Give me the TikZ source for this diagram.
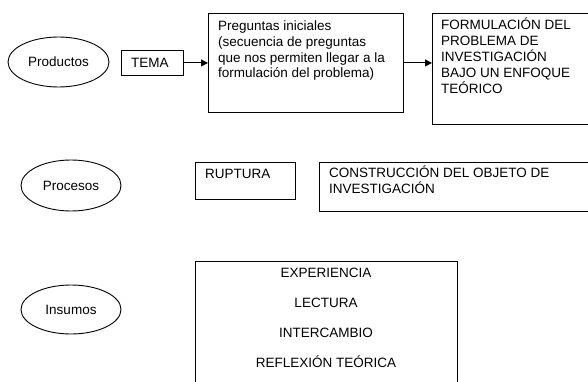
\documentclass[tikz,border=0pt]{standalone}
\usepackage{fontspec}
\setmainfont{Liberation Sans}
\usetikzlibrary{shapes.geometric,arrows.meta}

\begin{document}
\begin{tikzpicture}[x=1pt,y=-1pt,
    every node/.style={font=\fontsize{13.5pt}{15.7pt}\selectfont},
    level/.style={draw,ellipse,line width=0.9pt,inner sep=0pt},
    box/.style={draw,rectangle,line width=0.9pt,inner sep=0pt,anchor=north west},
    txt/.style={inner sep=0pt,align=left,anchor=north west},
    link/.style={line width=0.9pt,-{Triangle[length=7pt,width=7pt]}}]
      \useasboundingbox (0,0) rectangle (588,382);
      \clip (0,0) rectangle (588,382);
      % Productos
      \node[level,minimum width=101pt,minimum height=50pt] (prod) at (58.5,62) {Productos};
      \node[box,minimum width=62pt,minimum height=25pt] (tema) at (121,50) {};
      \node[txt,anchor=west] (tematxt) at ([xshift=10pt]tema.west) {TEMA};
      \node[box,minimum width=195pt,minimum height=99pt] (preg) at (208,13) {};
      \node[txt] (pregtxt) at (218,20.7) {Preguntas iniciales\\(secuencia de preguntas\\que nos permiten llegar a la\\formulación del problema)};
      \node[box,minimum width=170pt,minimum height=111pt] (form) at (432,13) {};
      \node[txt,font=\fontsize{13.5pt}{16pt}\selectfont] (formtxt) at (441,18) {FORMULACIÓN DEL\\PROBLEMA DE\\INVESTIGACIÓN\\BAJO UN ENFOQUE\\TEÓRICO};
      \draw[link] (tema) -- (preg);
      \draw[link] (preg.east) -- (preg.east -| form.west);
      % Procesos
      \node[level,minimum width=100pt,minimum height=51pt] (proc) at (71,185.5) {Procesos};
      \node[box,minimum width=100pt,minimum height=37pt] (rupt) at (195,162) {};
      \node[txt] (rupttxt) at (205,169) {RUPTURA};
      \node[box,minimum width=290pt,minimum height=49pt] (cons) at (319,162) {};
      \node[txt,font=\fontsize{13.5pt}{16pt}\selectfont] (constxt) at (329,166) {CONSTRUCCIÓN DEL OBJETO DE\\INVESTIGACIÓN};
      % Insumos
      \node[level,minimum width=100pt,minimum height=49pt] (insu) at (71,309.5) {Insumos};
      \node[box,minimum width=262pt,minimum height=140pt] (fuen) at (195,261) {};
      \node[txt,align=center,anchor=north,font=\fontsize{13.5pt}{30pt}\selectfont] (fuentxt) at (326,268.3) {EXPERIENCIA\\LECTURA\\INTERCAMBIO\\REFLEXIÓN TEÓRICA};
    \end{tikzpicture}
\end{document}
